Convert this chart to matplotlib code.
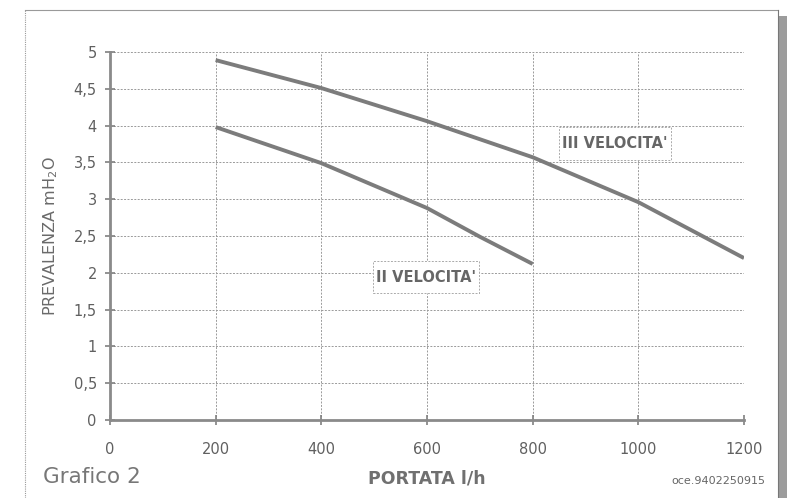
import matplotlib
matplotlib.use('Agg')
import matplotlib.pyplot as plt
import matplotlib.ticker as ticker
from matplotlib.lines import Line2D
from matplotlib.patches import Rectangle

plt.rcParams['font.family'] = ['DejaVu Sans']

# portata l/h e prevalenza mH2O
portata_iii = [200, 400, 600, 800, 1000, 1200]
prevalenza_iii = [4.89, 4.51, 4.06, 3.57, 2.96, 2.2]
portata_ii = [200, 400, 600, 700, 800]
prevalenza_ii = [3.98, 3.49, 2.88, 2.49, 2.12]

x_ticks = [0, 200, 400, 600, 800, 1000, 1200]
y_ticks = [0, 0.5, 1, 1.5, 2, 2.5, 3, 3.5, 4, 4.5, 5]

W, H = 796, 498
fig = plt.figure(figsize=(W / 100, H / 100), dpi=100)
ax = fig.add_axes([110 / W, 1 - 420 / H, (744 - 110) / W, (420 - 52) / H])

ax.plot(portata_iii, prevalenza_iii, color='#7c7c7c', lw=2.8, solid_capstyle='butt')
ax.plot(portata_ii, prevalenza_ii, color='#7c7c7c', lw=2.8, solid_capstyle='butt')

ax.set_xlim(0, 1200)
ax.set_ylim(0, 5)
ax.set_xticks(x_ticks)
ax.set_yticks(y_ticks)
ax.yaxis.set_major_formatter(ticker.FuncFormatter(lambda v, _: f'{v:g}'.replace('.', ',')))

ax.grid(True, color='#9a9a9a', lw=0.7, ls=(0, (2, 1.5)))
ax.set_axisbelow(True)

for side in ['top', 'right']:
    ax.spines[side].set_visible(False)
for side in ['left', 'bottom']:
    ax.spines[side].set_color('#8a8a8a')
    ax.spines[side].set_linewidth(2)

ax.tick_params(direction='inout', length=7, width=1.2, color='#808080',
               labelcolor='#606060', labelsize=10.5)
ax.tick_params(axis='x', pad=12)
ax.tick_params(axis='y', pad=6)

ax.set_ylabel('PREVALENZA mH$_2$O', color='#6a6a6a', fontsize=11.5, labelpad=10)
ax.set_xlabel('PORTATA l/h', color='#707070', fontsize=12.5, fontweight='bold', labelpad=9)

box = dict(boxstyle='square,pad=0.2', mutation_aspect=3, fc='white', ec='#aaaaaa',
           lw=0.7, ls=(0, (2, 1.5)))
ax.text(956, 3.76, "III VELOCITA'", color='#666666', fontsize=10.5, fontweight='bold',
        ha='center', va='center', bbox=box)
ax.text(598, 1.94, "II VELOCITA'", color='#666666', fontsize=10.5, fontweight='bold',
        ha='center', va='center', bbox=box)

fig.text(43 / W, 1 - 477 / H, 'Grafico 2', color='#777777', fontsize=15.5, va='center')
fig.text(765 / W, 1 - 481 / H, 'oce.9402250915', color='#666666', fontsize=8, va='center', ha='right')

# cornice del foglio
fc = '#9a9a9a'
fig.add_artist(Line2D([25 / W, 25 / W], [0, 1 - 10 / H], color=fc, lw=0.8, ls=(0, (1, 1))))
fig.add_artist(Line2D([25 / W, 778 / W], [1 - 10 / H, 1 - 10 / H], color=fc, lw=0.8))
fig.add_artist(Line2D([778 / W, 778 / W], [0, 1 - 10 / H], color='#777777', lw=0.8))
fig.add_artist(Rectangle((779 / W, 0), 8 / W, 1 - 16 / H, transform=fig.transFigure,
                         color='#9c9c9c', lw=0))

fig.savefig('out.png', dpi=100)
